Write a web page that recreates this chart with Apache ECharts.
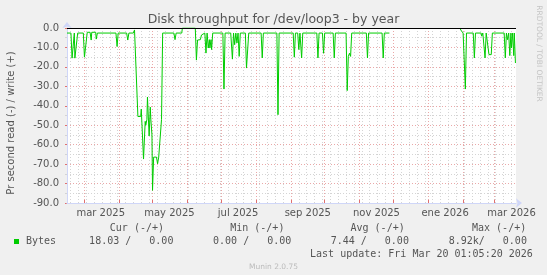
<!DOCTYPE html>
<html><head><meta charset="utf-8">
<script src="https://cdn.jsdelivr.net/npm/echarts@6/dist/echarts.min.js"></script>
<style>html,body{margin:0;padding:0;background:#f0f0f0}#c{width:547px;height:275px}</style>
</head><body><div id="c"></div>
<script>
// ---- data (read bytes per second, drawn negative; null = no data) ----
const sampleTimes = [
 '2025-02-14','2025-02-17 12:00','2025-02-18 12:00','2025-02-20','2025-02-20 12:00','2025-02-21','2025-02-22 12:00','2025-02-23 12:00',
 '2025-02-28 12:00','2025-03-01 12:00','2025-03-03','2025-03-04','2025-03-06 12:00','2025-03-07 12:00','2025-03-08',
 '2025-03-11 12:00','2025-03-12','2025-03-13','2025-03-29 12:00','2025-03-30 12:00','2025-03-31 12:00',
 '2025-04-08','2025-04-09','2025-04-10','2025-04-14','2025-04-15','2025-04-16 12:00','2025-04-17',
 '2025-04-18','2025-04-20 12:00','2025-04-21','2025-04-23','2025-04-24 12:00','2025-04-25','2025-04-26','2025-04-26 12:00',
 '2025-04-27 12:00','2025-04-28','2025-04-29','2025-04-29 12:00','2025-04-30 12:00','2025-05-01','2025-05-02',
 '2025-05-04 12:00','2025-05-05 12:00','2025-05-06 12:00','2025-05-07 12:00','2025-05-09','2025-05-10',
 '2025-05-20','2025-05-21','2025-05-22','2025-05-27','2025-05-27 12:00','2025-06-08','2025-06-09','2025-06-10',
 '2025-06-11 12:00','2025-06-12 12:00','2025-06-13 12:00','2025-06-15','2025-06-16 12:00','2025-06-17 12:00','2025-06-18 12:00',
 '2025-06-19 12:00','2025-06-20 12:00','2025-06-21','2025-06-22','2025-06-22 12:00','2025-06-23 12:00',
 '2025-07-02 12:00','2025-07-03 12:00','2025-07-04 12:00','2025-07-09 12:00','2025-07-11','2025-07-12','2025-07-13',
 '2025-07-14','2025-07-15','2025-07-16','2025-07-17','2025-07-18','2025-07-22 12:00','2025-07-23 12:00','2025-07-24 12:00',
 '2025-07-25 12:00','2025-08-05 12:00','2025-08-06 12:00','2025-08-07 12:00','2025-08-19 12:00','2025-08-20 12:00','2025-08-21 12:00',
 '2025-09-03','2025-09-04','2025-09-05','2025-09-07','2025-09-08','2025-09-09','2025-09-10 12:00','2025-09-11 12:00',
 '2025-09-24','2025-09-25','2025-09-26','2025-09-29','2025-09-30','2025-10-01','2025-10-08 12:00','2025-10-09 12:00','2025-10-10 12:00',
 '2025-10-20','2025-10-21','2025-10-22','2025-10-23','2025-10-24','2025-10-25','2025-11-07','2025-11-08','2025-11-09',
 '2025-11-21','2025-11-22','2025-11-23','2025-11-27 12:00','2025-12-15',
 '2026-01-29','2026-01-30 12:00','2026-02-01','2026-02-02','2026-02-03','2026-02-04','2026-02-10','2026-02-11','2026-02-12',
 '2026-02-17','2026-02-17 12:00','2026-02-18 12:00','2026-02-19 12:00','2026-02-20 12:00','2026-02-21 12:00','2026-02-23','2026-02-24',
 '2026-02-26','2026-02-27','2026-03-09 12:00','2026-03-10 12:00','2026-03-11 12:00','2026-03-12 12:00','2026-03-13 12:00',
 '2026-03-14 12:00','2026-03-15 12:00','2026-03-16','2026-03-17','2026-03-18','2026-03-18 12:00','2026-03-19 12:00','2026-03-20'
];
const readValues = [
 -2.6,-2.6,-15.5,-15.5,-2.6,-15.5,-15.5,-2.6,
 -2.6,-15,-15,-2.2,-2.2,-6.2,-2.2,
 -2.2,-5.7,-2.6,-2.6,-9.5,-2.6,
 -2.6,-6.2,-2.6,-2.6,-1,0,0,
 -45.5,-45.5,-41.7,-67.4,-48,-50,-47,-35.5,
 -34.8,-55.5,-40.7,-47,-55,-83.5,-66.4,
 -66.4,-69.8,-66.4,-66.4,-47,-2.6,
 -2.6,-6,-2.6,-2.6,0,0,-16.5,-6.2,
 -5.3,-6,-3.6,-2.6,-2.6,-12.9,-2.6,
 -10.3,-6,-10.3,-6,-11.1,-2.6,
 -2.6,-31.4,-2.6,-2.6,-16,-2.6,-8.6,
 -2.6,-7.7,-2.6,-14.6,-2.6,-2.6,-20.6,-20.6,
 -2.6,-2.6,-15.4,-2.6,-2.6,-44.6,-2.6,
 -2.6,-15,-2.6,-2.6,-11.1,-2.6,-15.4,-2.6,
 -2.6,-15.4,-2.6,-2.6,-13,-2.6,-2.6,-15.4,-2.6,
 -2.6,-32.2,-14.6,-13,-14.6,-2.6,-2.6,-15.4,-2.6,
 -2.6,-15.4,-2.6,-2.6,null,
 0,-1.5,-2.6,-2.6,-31.4,-2.6,-2.6,-15.4,-2.6,
 -2.6,-4.2,-2.6,-2.6,-15.4,-2.6,-2.6,-13.7,
 -13.7,-2.6,-2.6,-15.4,-2.6,-6,-2.6,
 -14.2,-2.6,-10.3,-2.6,-14.2,-2.6,-18,-18.03
];
const monthNames = ['ene','feb','mar','abr','may','jun','jul','ago','sep','oct','nov','dic'];
const axisStart = [2025, 1, 14];   // 14 Feb 2025
const axisDays = 400;              // through 20 Mar 2026
const yMin = -90, yMax = 0, yStep = 10;
const legendHeader = ['Cur (-/+)', 'Min (-/+)', 'Avg (-/+)', 'Max (-/+)'];
const legendValues = ['18.03 /   0.00', '0.00 /   0.00', '7.44 /   0.00', '8.92k/   0.00'];
const seriesName = 'Bytes';
const lastUpdate = 'Last update: Fri Mar 20 01:05:20 2026';

// ---- build ----
const days = [];
for (let i = 0; i < axisDays; i++) days.push(new Date(axisStart[0], axisStart[1], axisStart[2] + i));
const dayCats = days.map(d => d.getFullYear() + '-' + (d.getMonth() + 1) + '-' + d.getDate());
const fmt = d => d.getFullYear() + '-' + String(d.getMonth() + 1).padStart(2, '0') + '-' + String(d.getDate()).padStart(2, '0');
const tMin = fmt(days[0]), tMax = fmt(days[days.length - 1]);

const MAJOR = '#eaa8a8', MINOR = '#d4d4d4', AXIS = '#cfd6f8', FONT = '#555';
const mono = '"DejaVu Sans Mono", monospace';
const sans = '"DejaVu Sans", sans-serif';

const chart = echarts.init(document.getElementById('c'), null, {renderer: 'canvas'});
const hdrRight = [164, 284.4, 404.7, 526.2];
const valRight = [173.4, 291.3, 408.9, 526.9];
const graphics = [
  {type: 'text', left: 'center', top: 13, style: {text: 'Disk throughput for /dev/loop3 - by year', font: '12.5px ' + sans, fill: FONT}},
  {type: 'text', x: 11, y: 123, rotation: Math.PI / 2, style: {text: 'Pr second read (-) / write (+)', font: '10px ' + sans, fill: FONT, align: 'center', verticalAlign: 'middle'}},
  {type: 'text', x: 538.5, y: 53.5, rotation: -Math.PI / 2, style: {text: 'RRDTOOL / TOBI OETIKER', font: '7.5px ' + sans, fill: '#c4c4c4', align: 'center', verticalAlign: 'middle'}},
  {type: 'rect', shape: {x: 14, y: 239, width: 5, height: 5}, style: {fill: '#00cc00'}},
  {type: 'text', x: 26, y: 241.5, style: {text: seriesName, font: '10px ' + mono, fill: FONT, align: 'left', verticalAlign: 'middle'}},
  {type: 'text', x: 532.8, y: 254.1, style: {text: lastUpdate, font: '10px ' + mono, fill: FONT, align: 'right', verticalAlign: 'middle'}},
  {type: 'text', x: 273.5, y: 267, style: {text: 'Munin 2.0.75', font: '7.5px ' + sans, fill: '#bbbbbb', align: 'center', verticalAlign: 'middle'}}
];
legendHeader.forEach((t, i) => graphics.push({type: 'text', x: hdrRight[i], y: 228.6, style: {text: t, font: '10px ' + mono, fill: FONT, align: 'right', verticalAlign: 'middle'}}));
legendValues.forEach((t, i) => graphics.push({type: 'text', x: valRight[i], y: 241.5, style: {text: t, font: '10px ' + mono, fill: FONT, align: 'right', verticalAlign: 'middle'}}));

chart.setOption({
  animation: false,
  backgroundColor: '#f0f0f0',
  grid: {left: 67, top: 28, width: 449, height: 175, show: true, backgroundColor: '#ffffff', borderWidth: 0},
  xAxis: [
    {type: 'time', min: tMin, max: tMax, show: false},
    {type: 'category', data: dayCats, boundaryGap: false, position: 'bottom', z: 3,
      axisLine: {show: true, lineStyle: {color: AXIS, width: 1}, symbol: ['none', 'arrow'], symbolSize: [7, 6], symbolOffset: [0, 6]},
      axisTick: {show: true, inside: true, length: 3, interval: (i) => days[i].getDate() === 1, lineStyle: {color: '#e07070'}},
      splitLine: {show: true, interval: (i) => days[i].getDate() === 1, lineStyle: {color: MAJOR, type: [1, 2]}},
      axisLabel: {show: true, interval: (i) => days[i].getDate() === 16 && days[i].getMonth() % 2 === 0,
        formatter: (v, i) => { const d = days[i]; return monthNames[d.getMonth()] + ' ' + d.getFullYear(); },
        color: FONT, fontSize: 10, fontFamily: sans, margin: 5}},
    {type: 'category', data: dayCats, boundaryGap: false, z: 1,
      axisLine: {show: false}, axisTick: {show: false}, axisLabel: {show: false},
      splitLine: {show: true, interval: (i) => days[i].getDay() === 1 && days[i].getDate() !== 1, lineStyle: {color: MINOR, type: [1, 2]}}}
  ],
  yAxis: {type: 'value', min: yMin, max: yMax, interval: yStep,
    axisLine: {show: true, lineStyle: {color: AXIS, width: 1}, symbol: ['none', 'arrow'], symbolSize: [7, 6], symbolOffset: [0, 6]},
    axisTick: {show: true, length: 2, lineStyle: {color: '#e07070'}},
    minorTick: {show: true, splitNumber: 2, length: 2, lineStyle: {color: MINOR}},
    splitLine: {show: true, lineStyle: {color: MAJOR, type: [1, 2]}},
    minorSplitLine: {show: true, lineStyle: {color: MINOR, type: [1, 2]}},
    axisLabel: {formatter: v => v.toFixed(1), color: FONT, fontSize: 10, fontFamily: sans, margin: 8}},
  series: [{
    name: seriesName, type: 'line', xAxisIndex: 0,
    data: sampleTimes.map((t, i) => [t, readValues[i] === null ? '-' : readValues[i]]),
    showSymbol: false, connectNulls: false,
    lineStyle: {color: '#00cc00', width: 1}, itemStyle: {color: '#00cc00'},
    markLine: {silent: true, symbol: 'none', label: {show: false}, lineStyle: {color: '#000', type: 'solid', width: 1}, data: [{yAxis: 0}]}
  }],
  graphic: graphics
});
</script></body></html>
